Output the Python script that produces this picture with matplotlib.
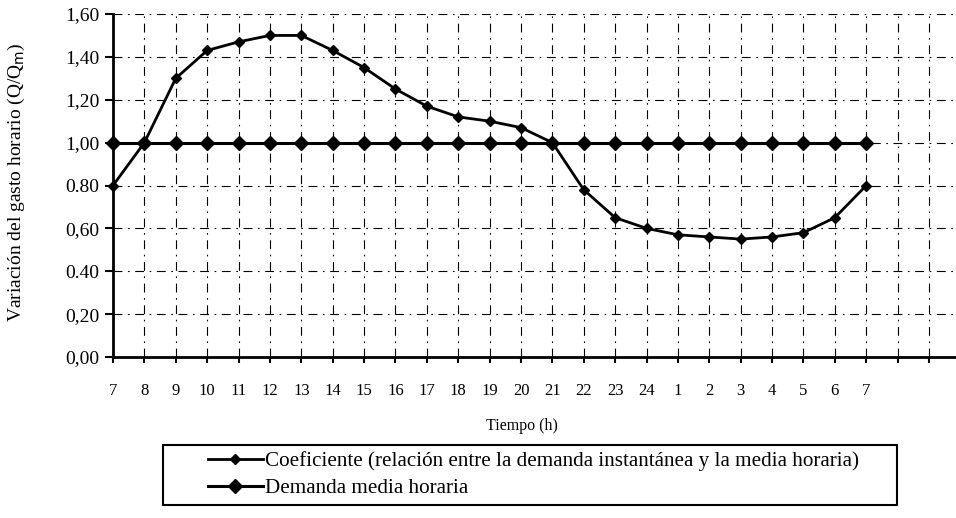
import matplotlib
matplotlib.use("Agg")
import matplotlib.pyplot as plt
from matplotlib.patches import Rectangle

plt.rcParams['font.family'] = ['Liberation Serif', 'DejaVu Serif']

hours = ["7", "8", "9", "10", "11", "12", "13", "14", "15", "16", "17", "18",
         "19", "20", "21", "22", "23", "24", "1", "2", "3", "4", "5", "6", "7"]
coeficiente = [0.80, 1.00, 1.30, 1.43, 1.47, 1.50, 1.50, 1.43, 1.35, 1.25, 1.17, 1.12,
               1.10, 1.07, 1.00, 0.78, 0.65, 0.60, 0.57, 0.56, 0.55, 0.56, 0.58, 0.65, 0.80]
demanda_media = [1.00] * 25
y_ticks = [0.0, 0.2, 0.4, 0.6, 0.8, 1.0, 1.2, 1.4, 1.6]
y_tick_labels = ["0,00", "0,20", "0.40", "0,60", "0.80", "1,00", "1,20", "1,40", "1,60"]
extra_slots = 2

W, H = 956, 518
fig = plt.figure(figsize=(W / 100, H / 100), dpi=100)
ax = fig.add_axes([113 / W, 1 - 357 / H, (956 - 113) / W, (357 - 14) / H])

x = list(range(len(hours)))
l1, = ax.plot(x, coeficiente, color='black', lw=2.0, marker='D', ms=5.5,
              clip_on=False, zorder=4)
l2, = ax.plot(x, demanda_media, color='black', lw=2.2, marker='D', ms=7.5,
              clip_on=False, zorder=3)

ax.set_xlim(0, 26.86)
ax.set_ylim(0, 1.6)
xt = list(range(len(hours) + extra_slots))
ax.set_xticks(xt)
ax.set_xticklabels(hours + [""] * extra_slots)
ax.set_yticks(y_ticks)
ax.set_yticklabels(y_tick_labels)

ax.grid(True, color='black', lw=0.8, linestyle=(0, (8, 5, 1.5, 5)))
for s in ['top', 'right']:
    ax.spines[s].set_visible(False)
for s in ['left', 'bottom']:
    ax.spines[s].set_linewidth(2.0)
ax.tick_params(axis='x', direction='out', length=4, width=1.5, pad=15, labelsize=12)
ax.tick_params(axis='y', direction='out', length=6, width=1.5, pad=4, labelsize=14)

ax.set_xlabel("Tiempo (h)", fontsize=11.5)
ax.xaxis.set_label_coords((522 - 113) / (956 - 113), -(418 - 357) / (357 - 14))
ax.set_ylabel("Variación del gasto horario (Q/Q$_{\\rm m}$)", fontsize=14)
ax.yaxis.set_label_coords(-(113 - 27) / (956 - 113), (357 - 182) / (357 - 14))

fig.patches.append(Rectangle((163 / W, 1 - 505 / H), (897 - 163) / W, (505 - 445) / H,
                             transform=fig.transFigure, fill=False, ec='black', lw=1.5))
leg = fig.legend([l1, l2],
                 ["Coeficiente (relación entre la demanda instantánea y la media horaria)",
                  "Demanda media horaria"],
                 loc='upper left', bbox_to_anchor=(208 / W, 1 - 451 / H),
                 frameon=False, fontsize=15.2, handlelength=2.6, handletextpad=0.1,
                 labelspacing=0.35, borderpad=0, borderaxespad=0)

fig.savefig("out.png", dpi=100)
